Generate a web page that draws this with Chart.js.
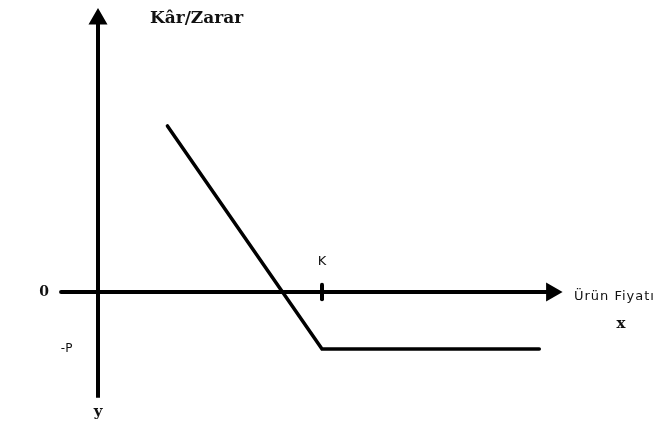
<!DOCTYPE html>
<html>
<head>
<meta charset="utf-8">
<script src="https://cdn.jsdelivr.net/npm/chart.js@4"></script>
<style>
  html, body { margin: 0; padding: 0; background: #fff; }
  #wrap { width: 672px; height: 427px; }
</style>
</head>
<body>
<div id="wrap"><canvas id="grafik"></canvas></div>
<script>
// veriler (birimler: yatay ürün fiyatı, dikey kâr/zarar)
const fiyat = [31, 100, 197];
const karZarar = [51, -17.5, -17.5];
const K = 100;
const P = -17.5;
const xEkseni = [-16.5, 202.5];
const yEkseni = [-32.5, 83.8];

// yazılar
const etiketler = [
  { text: "Kâr/Zarar", x: 44, y: 84, font: "bold 17px 'DejaVu Serif'", align: "center" },
  { text: "0", x: -24, y: 0, font: "bold 14px 'DejaVu Serif'", align: "center" },
  { text: "-P", x: -14, y: P, font: "12px 'DejaVu Sans'", align: "center" },
  { text: "y", x: 0, y: -37, font: "bold 15px 'DejaVu Serif'", align: "center" },
  { text: "K", x: K, y: 9.2, font: "13px 'DejaVu Sans'", align: "center" },
  { text: "Ürün Fiyatı", x: 212.5, y: -1.3, font: "13px 'DejaVu Sans'", align: "left", spacing: "1px" },
  { text: "x", x: 233.5, y: -9.8, font: "bold 15px 'DejaVu Serif'", align: "center" }
];

const yaziEklentisi = {
  id: "yazilar",
  afterDatasetsDraw(chart) {
    const ctx = chart.ctx;
    const sx = chart.scales.x, sy = chart.scales.y;
    ctx.save();
    ctx.fillStyle = "#111";
    ctx.textBaseline = "middle";
    etiketler.forEach(e => {
      ctx.font = e.font;
      ctx.textAlign = e.align;
      ctx.letterSpacing = e.spacing || "0px";
      ctx.fillText(e.text, sx.getPixelForValue(e.x), sy.getPixelForValue(e.y));
    });
    ctx.restore();
  }
};

const ctx = document.getElementById("grafik");
new Chart(ctx, {
  type: "line",
  data: {
    datasets: [
      {
        label: "Kâr/Zarar",
        data: fiyat.map((v, i) => ({ x: v, y: karZarar[i] })),
        borderColor: "#000",
        borderWidth: 3.5,
        pointRadius: 0,
        borderCapStyle: "round"
      },
      {
        label: "x ekseni",
        data: [{ x: xEkseni[0], y: 0 }, { x: xEkseni[1], y: 0 }],
        borderColor: "#000",
        backgroundColor: "#000",
        borderWidth: 4,
        pointStyle: "triangle",
        pointRadius: [0, 7],
        pointRotation: [0, 90],
        borderCapStyle: "round"
      },
      {
        label: "y ekseni",
        data: [{ x: 0, y: yEkseni[0] }, { x: 0, y: yEkseni[1] }],
        borderColor: "#000",
        backgroundColor: "#000",
        borderWidth: 4,
        pointStyle: "triangle",
        pointRadius: [0, 7],
        pointRotation: [0, 0]
      },
      {
        label: "K",
        data: [{ x: K, y: -2.2 }, { x: K, y: 2.2 }],
        borderColor: "#000",
        borderWidth: 4,
        pointRadius: 0,
        borderCapStyle: "round"
      }
    ]
  },
  options: {
    responsive: true,
    maintainAspectRatio: false,
    animation: false,
    layout: { padding: 0, autoPadding: false },
    plugins: { legend: { display: false }, tooltip: { enabled: false } },
    scales: {
      x: { type: "linear", display: false, min: -43.75, max: 256.25 },
      y: { type: "linear", display: false, min: -41.45, max: 89.65 }
    }
  },
  plugins: [yaziEklentisi]
});
</script>
</body>
</html>
